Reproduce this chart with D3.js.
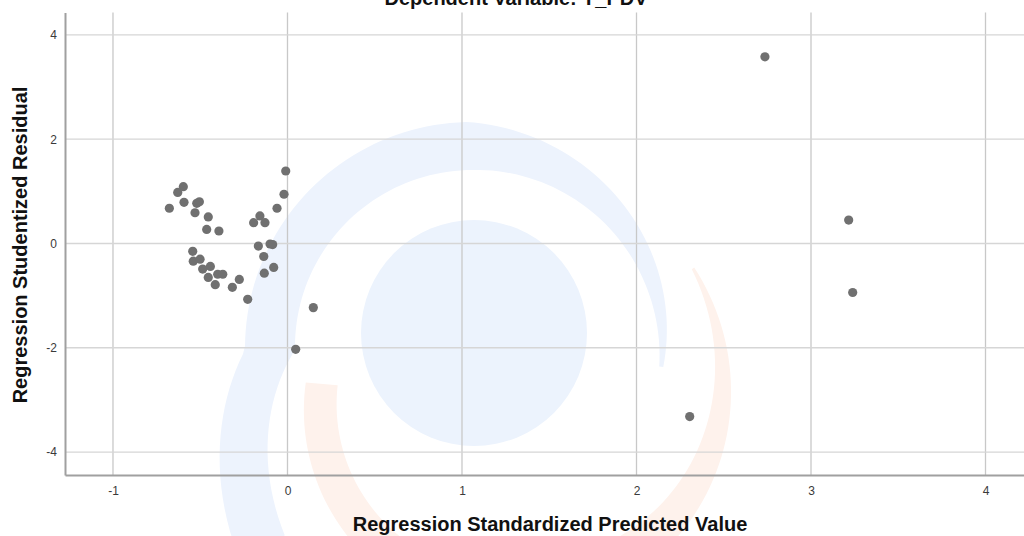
<!DOCTYPE html>
<html>
<head>
<meta charset="utf-8">
<script src="https://cdn.jsdelivr.net/npm/d3@7"></script>
<style>
  body { margin: 0; background: #fff; }
  svg { display: block; font-family: "Liberation Sans", Arial, sans-serif; }
</style>
</head>
<body>
<div id="chart"></div>
<script>
// DATA
var predicted = [
  -0.010, -0.020, -0.060, -0.158, -0.194, -0.129,
  -0.597, -0.629, -0.677, -0.593, -0.530, -0.520, -0.505, -0.454, -0.463, -0.393,
  -0.167, -0.100, -0.085, -0.136, -0.133, -0.079,
  -0.543, -0.540, -0.501, -0.486, -0.442, -0.454, -0.400, -0.371, -0.414,
  -0.316, -0.276, -0.228,
  0.148, 0.047,
  2.736, 3.216, 3.239, 2.305
];
var residual = [
  1.39, 0.944, 0.676, 0.528, 0.40, 0.40,
  1.09, 0.98, 0.676, 0.79, 0.59, 0.77, 0.80, 0.51, 0.27, 0.24,
  -0.05, -0.01, -0.02, -0.25, -0.57, -0.46,
  -0.15, -0.34, -0.30, -0.49, -0.44, -0.65, -0.59, -0.59, -0.79,
  -0.84, -0.69, -1.07,
  -1.23, -2.03,
  3.58, 0.45, -0.94, -3.32
];
var xTicks = [-1, 0, 1, 2, 3, 4];
var yTicks = [-4, -2, 0, 2, 4];
var chartTitle = 'Dependent Variable: Y_PDV';
var xTitle = 'Regression Standardized Predicted Value';
var yTitle = 'Regression Studentized Residual';

// LAYOUT
var width = 1024;
var height = 536;
var plotLeft = 65;
var plotRight = 1030; // runs past the window edge
var plotTop = 12.5;
var plotBottom = 475;

var pointColor = '#707070';
var pointRadius = 4.6;
var gridColor = '#d6d6d6';
var axisColor = '#a0a0a0';
var deg = Math.PI / 180;

var x = d3.scaleLinear()
    .domain([-1.275, 4.255])
    .range([plotLeft, plotRight]);
var y = d3.scaleLinear()
    .domain([-4.44, 4.43])
    .range([plotBottom, plotTop]);

var svg = d3.select('#chart')
  .append('svg')
    .attr('width', width)
    .attr('height', height);

// faint watermark behind the plot (tapered swooshes + disc)
var wm = svg.append('g').attr('class', 'watermark');

function swoosh(a0, a1, radius, thick) {
  return d3.areaRadial()
      .angle(function(a) { return a * deg; })
      .innerRadius(function(a) { return radius(a); })
      .outerRadius(function(a) { return radius(a) + thick(a); })
      (d3.range(a0, a1 + 1, 2));
}

var orangeR = d3.scaleLinear().domain([55, 140, 275]).range([228, 178, 168]);
var orangeW = d3.scaleLinear().domain([55, 150, 275]).range([3, 45, 32]);
wm.append('path')
    .attr('transform', 'translate(505,400)')
    .attr('d', swoosh(55, 275, orangeR, orangeW))
    .style('fill', '#fef2ec');

var blueR = d3.scaleLinear().domain([-135, -90, 0, 95]).range([262, 175, 180, 190]);
var blueW = d3.scaleLinear().domain([-135, -90, 0, 95]).range([55, 50, 48, 4]);
wm.append('path')
    .attr('transform', 'translate(470,350)')
    .attr('d', swoosh(-135, 95, blueR, blueW))
    .style('fill', '#edf3fd');

wm.append('circle')
    .attr('cx', 474)
    .attr('cy', 333)
    .attr('r', 113)
    .style('fill', '#ecf3fd');

// GRID
svg.append('g')
  .selectAll('line')
  .data(xTicks)
  .enter()
  .append('line')
    .attr('x1', function(d) { return x(d); })
    .attr('x2', function(d) { return x(d); })
    .attr('y1', plotTop)
    .attr('y2', plotBottom)
    .style('stroke', '#c8c8c8')
    .style('stroke-width', 1.3);

svg.append('g')
  .selectAll('line')
  .data(yTicks)
  .enter()
  .append('line')
    .attr('x1', plotLeft)
    .attr('x2', plotRight)
    .attr('y1', function(d) { return y(d); })
    .attr('y2', function(d) { return y(d); })
    .style('stroke', gridColor)
    .style('stroke-width', 1.3);

// AXES
var xAxis = d3.axisBottom(x)
    .tickValues(xTicks)
    .tickSize(0)
    .tickPadding(11)
    .tickFormat(function(d) { return String(d); });
var yAxis = d3.axisLeft(y)
    .tickValues(yTicks)
    .tickSize(0)
    .tickPadding(8)
    .tickFormat(function(d) { return String(d); });

var gx = svg.append('g')
    .attr('transform', 'translate(0,' + plotBottom + ')')
    .call(xAxis);
var gy = svg.append('g')
    .attr('transform', 'translate(' + plotLeft + ',0)')
    .call(yAxis);

[gx, gy].forEach(function(g) {
  g.select('.domain')
      .style('stroke', axisColor)
      .style('stroke-width', 2);
  g.selectAll('text')
      .style('font-size', '12px')
      .style('fill', '#3a3a3a');
});

// POINTS
svg.append('g')
  .selectAll('circle')
  .data(predicted)
  .enter()
  .append('circle')
    .attr('cx', function(d) { return x(d); })
    .attr('cy', function(d, i) { return y(residual[i]); })
    .attr('r', pointRadius)
    .style('fill', pointColor);

// TITLES
svg.append('text')
    .attr('x', 516)
    .attr('y', 5)
    .attr('text-anchor', 'middle')
    .style('font-size', '20px')
    .style('font-weight', 'bold')
    .style('fill', '#111')
    .text(chartTitle);

svg.append('text')
    .attr('x', 550)
    .attr('y', 531)
    .attr('text-anchor', 'middle')
    .style('font-size', '20px')
    .style('font-weight', 'bold')
    .style('fill', '#111')
    .text(xTitle);

svg.append('text')
    .attr('transform', 'translate(27,245) rotate(-90)')
    .attr('text-anchor', 'middle')
    .style('font-size', '20px')
    .style('font-weight', 'bold')
    .style('fill', '#111')
    .text(yTitle);
</script>
</body>
</html>
